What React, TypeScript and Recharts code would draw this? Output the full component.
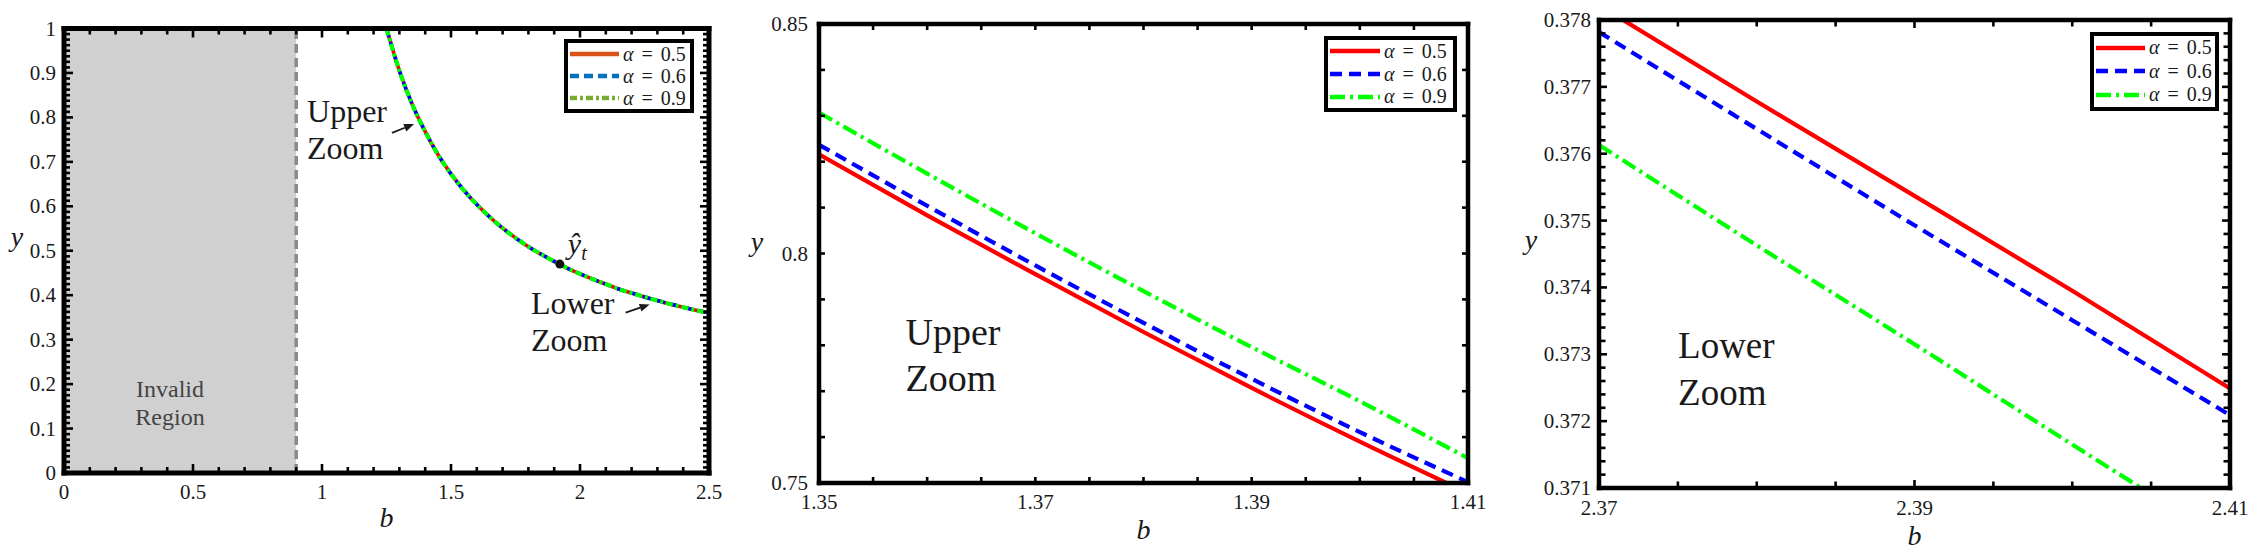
import React from 'react';
import {
  Legend,
  Line,
  LineChart,
  ReferenceArea,
  ReferenceDot,
  ReferenceLine,
  XAxis,
  YAxis,
} from 'recharts';

const SERIF = '"Liberation Serif", "Times New Roman", serif';
const INK = '#1a1a1a';

// left panel: whole curve (the three alphas overlap at this scale)
const overviewB = [1.25, 1.3, 1.35, 1.4, 1.45, 1.5, 1.55, 1.6, 1.65, 1.7, 1.75, 1.8, 1.85, 1.9, 1.95, 2, 2.05, 2.1, 2.15, 2.2, 2.25, 2.3, 2.35, 2.4, 2.45, 2.5];
const overviewY = [1.0, 0.905, 0.829, 0.768, 0.716, 0.673, 0.636, 0.604, 0.576, 0.551, 0.529, 0.509, 0.492, 0.476, 0.461, 0.448, 0.436, 0.425, 0.414, 0.405, 0.396, 0.388, 0.38, 0.373, 0.366, 0.36];
const overviewXTicks = [0, 0.5, 1, 1.5, 2, 2.5];
const overviewYTicks = [0, 0.1, 0.2, 0.3, 0.4, 0.5, 0.6, 0.7, 0.8, 0.9, 1];

// middle panel: upper zoom
const upperB = [1.35, 1.36, 1.37, 1.38, 1.39, 1.4, 1.41];
const upperY05 = [0.8216, 0.8083, 0.7955, 0.7829, 0.7707, 0.759, 0.7478];
const upperY06 = [0.8237, 0.8104, 0.7974, 0.7849, 0.7727, 0.7611, 0.7502];
const upperY09 = [0.8307, 0.8174, 0.8044, 0.7918, 0.7796, 0.7678, 0.7554];
const upperXTicks = [1.35, 1.37, 1.39, 1.41];
const upperYTicks = [0.75, 0.8, 0.85];

// right panel: lower zoom
const lowerB = [2.37, 2.38, 2.39, 2.4, 2.41];
const lowerY05 = [0.37822, 0.37678, 0.37537, 0.37395, 0.37249];
const lowerY06 = [0.37782, 0.37637, 0.37493, 0.37351, 0.37209];
const lowerY09 = [0.37613, 0.37463, 0.37315, 0.37165, 0.37017];
const lowerXTicks = [2.37, 2.39, 2.41];
const lowerYTicks = [0.371, 0.372, 0.373, 0.374, 0.375, 0.376, 0.377, 0.378];

const alphaLabels = ['0.5', '0.6', '0.9'];
const seriesKeys = ['a05', 'a06', 'a09'];
const lineColors = ['#ff0000', '#0000ff', '#00ff00'];
const overviewLegendColors = ['#d95319', '#0072bd', '#77ac30'];

type Row = { b: number; a05: number; a06: number; a09: number };

const overviewRows: Row[] = overviewB.map((b, i) => ({ b, a05: overviewY[i], a06: overviewY[i], a09: overviewY[i] }));
const upperRows: Row[] = upperB.map((b, i) => ({ b, a05: upperY05[i], a06: upperY06[i], a09: upperY09[i] }));
const lowerRows: Row[] = lowerB.map((b, i) => ({ b, a05: lowerY05[i], a06: lowerY06[i], a09: lowerY09[i] }));

// minor tick positions along an axis
function steps(from: number, to: number, step: number) {
  const n = Math.round((to - from) / step);
  return Array.from({ length: n + 1 }, (_, i) => +(from + i * step).toFixed(6));
}

type Side = 'left' | 'right' | 'top' | 'bottom';

function makeTick(side: Side, majors: number[], withText: boolean, minorLen: number, majorLen: number, gap: number) {
  return (props: any) => {
    const { x, y, payload } = props;
    const v = payload?.value as number;
    const hit = majors.find((m) => Math.abs(m - v) < 1e-7);
    const len = hit !== undefined ? majorLen : minorLen;
    let line: React.ReactNode = null;
    let text: React.ReactNode = null;
    if (side === 'left') line = <line x1={x} y1={y} x2={x + len} y2={y} />;
    if (side === 'right') line = <line x1={x} y1={y} x2={x - len} y2={y} />;
    if (side === 'bottom') line = <line x1={x} y1={y} x2={x} y2={y - len} />;
    if (side === 'top') line = <line x1={x} y1={y} x2={x} y2={y + len} />;
    if (withText && hit !== undefined) {
      if (side === 'left')
        text = (
          <text x={x - gap} y={y + 7} textAnchor="end" stroke="none" fill={INK} fontFamily={SERIF} fontSize={21}>
            {String(hit)}
          </text>
        );
      if (side === 'bottom')
        text = (
          <text x={x} y={y + gap} textAnchor="middle" stroke="none" fill={INK} fontFamily={SERIF} fontSize={21}>
            {String(hit)}
          </text>
        );
    }
    return (
      <g>
        <g stroke="#000" strokeWidth={2.6}>{line}</g>
        {text}
      </g>
    );
  };
}

type LegendSpec = { left: number; top: number; width: number; row: number; sample: number };

function LegendBox({ spec, colors, dashes }: { spec: LegendSpec; colors: string[]; dashes: (string | undefined)[] }) {
  return (
    <div
      style={{
        boxSizing: 'border-box',
        width: spec.width,
        border: '4px solid #000',
        background: '#fff',
        padding: '0 2px',
        fontFamily: SERIF,
        fontSize: 20,
        color: INK,
      }}
    >
      {alphaLabels.map((a, i) => (
        <div key={a} style={{ display: 'flex', alignItems: 'center', height: spec.row }}>
          <svg width={spec.sample} height={8} style={{ display: 'block' }}>
            <line x1={0} y1={4} x2={spec.sample} y2={4} stroke={colors[i]} strokeWidth={4.5} strokeDasharray={dashes[i]} />
          </svg>
          <span style={{ marginLeft: 4, whiteSpace: 'nowrap', wordSpacing: 3 }}>
            <i>α</i> = {a}
          </span>
        </div>
      ))}
    </div>
  );
}

function noteShape(lines: string[], fontSize: number, lineH: number, fill = INK, anchor: 'start' | 'middle' = 'start') {
  return (p: any) => (
    <text x={p.cx} y={p.cy} fontFamily={SERIF} fontSize={fontSize} fill={fill} textAnchor={anchor}>
      {lines.map((l, i) => (
        <tspan key={l} x={p.cx} dy={i === 0 ? 0 : lineH}>
          {l}
        </tspan>
      ))}
    </text>
  );
}

const arrowShape = (p: any) => {
  const { x1, y1, x2, y2 } = p;
  const ang = Math.atan2(y2 - y1, x2 - x1);
  const L = 10;
  const W = 4;
  const bx = x2 - L * Math.cos(ang);
  const by = y2 - L * Math.sin(ang);
  const nx = -Math.sin(ang) * W;
  const ny = Math.cos(ang) * W;
  return (
    <g>
      <line x1={x1} y1={y1} x2={bx} y2={by} stroke={INK} strokeWidth={1.8} />
      <polygon points={`${x2},${y2} ${bx + nx},${by + ny} ${bx - nx},${by - ny}`} fill={INK} />
    </g>
  );
};

type PanelProps = {
  left: number;
  width: number;
  margin: { top: number; right: number; bottom: number; left: number };
  yAxisWidth: number;
  rows: Row[];
  xDomain: [number, number];
  yDomain: [number, number];
  xTicks: number[];
  yTicks: number[];
  xMinor: number;
  yMinor: number;
  frame: number;
  minorLen: number;
  majorLen: number;
  yGap: number;
  xGap: number;
  lineWidths: number[];
  dashes: (string | undefined)[];
  yTitle: { dx: number; dy: number };
  bTitle: number;
  legend: LegendSpec;
  legendColors: string[];
  children?: React.ReactNode;
};

function Panel(p: PanelProps) {
  const xAll = steps(p.xDomain[0], p.xDomain[1], p.xMinor);
  const yAll = steps(p.yDomain[0], p.yDomain[1], p.yMinor);
  const frameLine = { stroke: '#000', strokeWidth: p.frame, strokeLinecap: 'square' as const };
  const shared = { type: 'number' as const, allowDataOverflow: true, interval: 0 as const, tickSize: 0, tickMargin: 0, tickLine: false, axisLine: frameLine };
  return (
    <div style={{ position: 'absolute', left: p.left, top: 0 }}>
      <LineChart width={p.width} height={558} data={p.rows} margin={p.margin}>
        {p.children}
        {seriesKeys.map((k, i) => (
          <Line
            key={k}
            dataKey={k}
            type="monotone"
            stroke={lineColors[i]}
            strokeWidth={p.lineWidths[i]}
            strokeDasharray={p.dashes[i]}
            dot={false}
            activeDot={false}
            isAnimationActive={false}
          />
        ))}
        <XAxis
          {...shared}
          dataKey="b"
          domain={p.xDomain}
          ticks={xAll}
          height={60}
          tick={makeTick('bottom', p.xTicks, true, p.minorLen, p.majorLen, p.xGap)}
          label={{
            content: (lp: any) => {
              const vb = lp.viewBox ?? { x: 0, y: 0, width: 0 };
              return (
                <text x={vb.x + vb.width / 2} y={vb.y + p.bTitle} textAnchor="middle" fontFamily={SERIF} fontStyle="italic" fontSize={28} fill={INK}>
                  b
                </text>
              );
            },
          }}
        />
        <XAxis
          {...shared}
          xAxisId="top"
          orientation="top"
          dataKey="b"
          domain={p.xDomain}
          ticks={xAll}
          height={1}
          tick={makeTick('top', p.xTicks, false, p.minorLen, p.majorLen, 0)}
        />
        <YAxis
          {...shared}
          domain={p.yDomain}
          ticks={yAll}
          width={p.yAxisWidth}
          tick={makeTick('left', p.yTicks, true, p.minorLen, p.majorLen, p.yGap)}
          label={{
            content: (lp: any) => {
              const vb = lp.viewBox ?? { x: 0, y: 0, width: 0, height: 0 };
              return (
                <text
                  x={vb.x + vb.width + p.yTitle.dx}
                  y={vb.y + vb.height / 2 + p.yTitle.dy}
                  textAnchor="middle"
                  fontFamily={SERIF}
                  fontStyle="italic"
                  fontSize={28}
                  fill={INK}
                >
                  y
                </text>
              );
            },
          }}
        />
        <YAxis
          {...shared}
          yAxisId="right"
          orientation="right"
          domain={p.yDomain}
          ticks={yAll}
          width={1}
          tick={makeTick('right', p.yTicks, false, p.minorLen, p.majorLen, 0)}
        />
        <Legend
          layout="horizontal"
          verticalAlign="middle"
          align="center"
          width={p.legend.width}
          wrapperStyle={{ left: p.legend.left, top: p.legend.top, width: p.legend.width }}
          content={() => <LegendBox spec={p.legend} colors={p.legendColors} dashes={p.dashes} />}
        />
      </LineChart>
    </div>
  );
}

export default function App() {
  return (
    <div style={{ position: 'absolute', left: 0, top: 0, width: 2262, height: 558, background: '#fff' }}>
      <Panel
        left={0}
        width={740}
        margin={{ top: 27.5, right: 30, bottom: 25, left: 0 }}
        yAxisWidth={64}
        rows={overviewRows}
        xDomain={[0, 2.5]}
        yDomain={[0, 1]}
        xTicks={overviewXTicks}
        yTicks={overviewYTicks}
        xMinor={0.1}
        yMinor={0.0125}
        frame={5}
        minorLen={6}
        majorLen={9}
        yGap={8}
        xGap={26}
        lineWidths={[3.6, 3.6, 4.2]}
        dashes={[undefined, '9 5', '7 3 3 3']}
        yTitle={{ dx: -47, dy: -5 }}
        bTitle={54}
        legend={{ left: 564, top: 39, width: 130, row: 22, sample: 49 }}
        legendColors={overviewLegendColors}
      >
        <ReferenceArea x1={0} x2={0.9} y1={0} y2={1} fill="#d0d0d0" fillOpacity={1} stroke="none" />
        <ReferenceLine x={0.9} stroke="#8a8a8a" strokeWidth={3.5} strokeDasharray="9 5" />
        <ReferenceDot x={0.411} y={0.17} r={0} shape={noteShape(['Invalid', 'Region'], 24, 28, '#444', 'middle')} />
        <ReferenceDot x={0.942} y={0.789} r={0} shape={noteShape(['Upper', 'Zoom'], 32, 37)} />
        <ReferenceDot x={1.81} y={0.358} r={0} shape={noteShape(['Lower', 'Zoom'], 32, 37)} />
        <ReferenceLine segment={[{ x: 1.271, y: 0.765 }, { x: 1.357, y: 0.785 }]} shape={arrowShape} />
        <ReferenceLine segment={[{ x: 2.177, y: 0.361 }, { x: 2.27, y: 0.379 }]} shape={arrowShape} />
        <ReferenceDot x={1.922} y={0.47} r={4.5} fill="#111" stroke="none" />
        <ReferenceDot
          x={1.953}
          y={0.493}
          r={0}
          shape={(sp: any) => (
            <text x={sp.cx} y={sp.cy} fontFamily={SERIF} fontStyle="italic" fontSize={30} fill={INK}>
              ŷ
              <tspan fontSize={20} dy={6}>
                t
              </tspan>
            </text>
          )}
        />
      </Panel>
      <Panel
        left={740}
        width={760}
        margin={{ top: 23, right: 31, bottom: 15, left: 0 }}
        yAxisWidth={79}
        rows={upperRows}
        xDomain={[1.35, 1.41]}
        yDomain={[0.75, 0.85]}
        xTicks={upperXTicks}
        yTicks={upperYTicks}
        xMinor={0.005}
        yMinor={0.01}
        frame={4.5}
        minorLen={6}
        majorLen={6}
        yGap={11}
        xGap={26}
        lineWidths={[4.2, 4.2, 4.2]}
        dashes={[undefined, '12 7', '15 5 3 5']}
        yTitle={{ dx: -62, dy: -3 }}
        bTitle={56}
        legend={{ left: 584, top: 36, width: 133, row: 22.7, sample: 50 }}
        legendColors={lineColors}
      >
        <ReferenceDot x={1.358} y={0.7801} r={0} shape={noteShape(['Upper', 'Zoom'], 38, 46)} />
      </Panel>
      <Panel
        left={1500}
        width={762}
        margin={{ top: 19, right: 31, bottom: 10, left: 0 }}
        yAxisWidth={99}
        rows={lowerRows}
        xDomain={[2.37, 2.41]}
        yDomain={[0.371, 0.378]}
        xTicks={lowerXTicks}
        yTicks={lowerYTicks}
        xMinor={0.005}
        yMinor={0.0002}
        frame={4.5}
        minorLen={6.5}
        majorLen={8}
        yGap={8}
        xGap={27}
        lineWidths={[4.2, 4.2, 4.2]}
        dashes={[undefined, '12 7', '15 5 3 5']}
        yTitle={{ dx: -68, dy: -5 }}
        bTitle={57}
        legend={{ left: 590, top: 32, width: 129, row: 23.5, sample: 49 }}
        legendColors={lineColors}
      >
        <ReferenceDot x={2.37501} y={0.37294} r={0} shape={noteShape(['Lower', 'Zoom'], 37, 47)} />
      </Panel>
    </div>
  );
}
